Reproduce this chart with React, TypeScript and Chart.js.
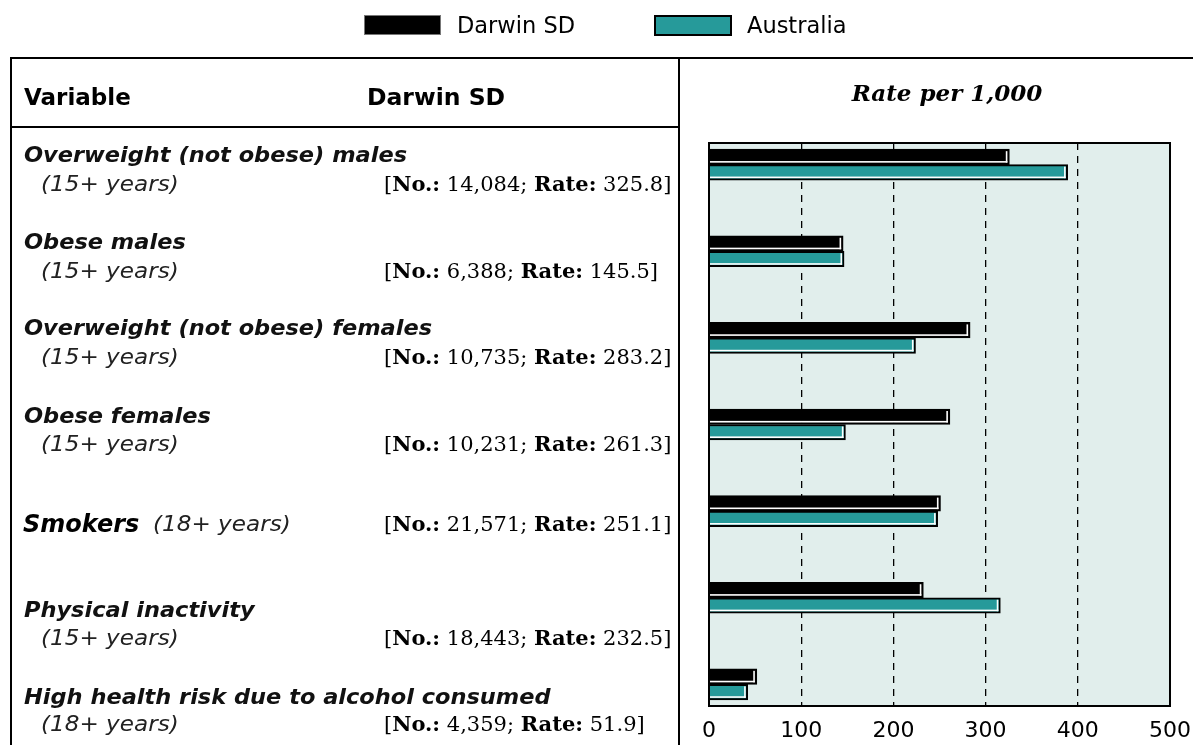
import React, { useEffect, useRef } from "react";
import { Chart, registerables } from "chart.js";

Chart.register(...registerables);

// ---------- data ----------
const seriesNames = ["Darwin SD", "Australia"];
const categories = [
  "Overweight (not obese) males",
  "Obese males",
  "Overweight (not obese) females",
  "Obese females",
  "Smokers",
  "Physical inactivity",
  "High health risk due to alcohol consumed",
];
const ageGroups = [
  "(15+ years)",
  "(15+ years)",
  "(15+ years)",
  "(15+ years)",
  "(18+ years)",
  "(15+ years)",
  "(18+ years)",
];
const darwinCounts = ["14,084", "6,388", "10,735", "10,231", "21,571", "18,443", "4,359"];
const darwinRates = [325.8, 145.5, 283.2, 261.3, 251.1, 232.5, 51.9];
const australiaRates = [389, 146.5, 224, 148, 248, 316, 42];
const xTickValues = [0, 100, 200, 300, 400, 500];

// ---------- colours ----------
const TEAL = "#269A9A";
const PLOT_BG = "#E1EEEC";

// ---------- layout (row text centres) ----------
const headCenters = [155, 242, 328, 416, 524, 610, 697];
const subCenters = [184, 271, 357, 444, 524, 638, 724];
const singleLineRow = 4;

const decorPlugin = {
  id: "decor",
  beforeDraw(chart: any) {
    const { ctx, chartArea: a } = chart;
    ctx.save();
    ctx.fillStyle = PLOT_BG;
    ctx.fillRect(a.left, a.top, a.right - a.left, a.bottom - a.top);
    ctx.restore();
  },
  afterDatasetsDraw(chart: any) {
    const ctx = chart.ctx;
    ctx.save();
    ctx.fillStyle = "#ffffff";
    chart.data.datasets.forEach((_ds: any, di: number) => {
      const meta = chart.getDatasetMeta(di);
      meta.data.forEach((el: any) => {
        const { x, y, base, height } = el.getProps(["x", "y", "base", "height"], true);
        const left = Math.min(x, base);
        const right = Math.max(x, base);
        const top = y - height / 2;
        const bottom = y + height / 2;
        const bw = 2;
        const hl = 1.6;
        ctx.fillRect(right - bw - hl, top + bw, hl, bottom - top - 2 * bw);
        ctx.fillRect(left, bottom - bw - hl, right - left - bw, hl);
      });
    });
    ctx.restore();
  },
  afterDraw(chart: any) {
    const { ctx, chartArea: a } = chart;
    ctx.save();
    ctx.strokeStyle = "#000";
    ctx.lineWidth = 2;
    ctx.strokeRect(a.left, a.top, a.right - a.left, a.bottom - a.top);
    ctx.restore();
  },
};

function BarChart() {
  const ref = useRef<HTMLCanvasElement | null>(null);
  useEffect(() => {
    if (!ref.current) return;
    const chart = new Chart(ref.current, {
      type: "bar",
      data: {
        labels: categories,
        datasets: [
          {
            label: seriesNames[0],
            data: darwinRates.map((v, i) => ({ x: v, y: i })),
            backgroundColor: "#000",
            borderColor: "#000",
            borderWidth: 2,
            barThickness: 15.5,
          },
          {
            label: seriesNames[1],
            data: australiaRates.map((v, i) => ({ x: v, y: i })),
            backgroundColor: TEAL,
            borderColor: "#000",
            borderWidth: 2,
            barThickness: 15.5,
          },
        ],
      } as any,
      options: {
        indexAxis: "y",
        responsive: false,
        animation: false,
        devicePixelRatio: 1,
        layout: { padding: { left: 709, right: 31, top: 143, bottom: 0 } },
        plugins: { legend: { display: false }, tooltip: { enabled: false } },
        scales: {
          x: {
            type: "linear",
            position: "bottom",
            min: 0,
            max: 500,
            afterBuildTicks: (s: any) => {
              s.ticks = xTickValues.map((v) => ({ value: v }));
            },
            afterFit: (s: any) => {
              s.height = 39;
            },
            ticks: {
              color: "#000",
              padding: 12,
              font: { family: "'DejaVu Sans'", size: 22 },
            },
            grid: {
              color: "#000",
              lineWidth: 1.3,
              drawTicks: false,
            },
            border: { display: false, dash: [7, 6] },
          },
          y: {
            type: "linear",
            min: -0.25,
            max: 6.25,
            reverse: true,
            offset: false,
            display: false,
          },
        },
      } as any,
      plugins: [decorPlugin],
    });
    return () => chart.destroy();
  }, []);
  return (
    <canvas
      ref={ref}
      width={1203}
      height={745}
      style={{ position: "absolute", left: 0, top: 0, width: 1203, height: 745 }}
    />
  );
}

const lineStyle = (l: number, t: number, w: number, h: number): React.CSSProperties => ({
  position: "absolute",
  left: l,
  top: t,
  width: w,
  height: h,
  background: "#000",
});

export default function App() {
  const textLine = (center: number, h = 30): React.CSSProperties => ({
    position: "absolute",
    top: center - h / 2,
    height: h,
    lineHeight: h + "px",
    whiteSpace: "nowrap",
    color: "#000",
  });
  return (
    <div
      style={{
        position: "fixed",
        left: 0,
        top: 0,
        width: 1203,
        height: 745,
        background: "#fff",
        overflow: "hidden",
        fontFamily: "'DejaVu Sans', sans-serif",
      }}
    >
      <BarChart />
      {/* legend */}
      <div style={{ position: "absolute", left: 364, top: 15, width: 77, height: 20, background: "#000", border: "1px solid #777", boxSizing: "border-box" }} />
      <div style={{ ...textLine(25), left: 457, fontSize: 22.5 }}>{seriesNames[0]}</div>
      <div style={{ position: "absolute", left: 654, top: 15, width: 78, height: 21, background: TEAL, border: "2px solid #000", boxSizing: "border-box" }} />
      <div style={{ ...textLine(25), left: 747, fontSize: 22.5 }}>{seriesNames[1]}</div>

      {/* table frame */}
      <div style={lineStyle(10, 57, 1183, 2)} />
      <div style={lineStyle(10, 57, 2, 688)} />
      <div style={lineStyle(678, 57, 2, 688)} />
      <div style={lineStyle(10, 126, 670, 2)} />

      {/* headers */}
      <div style={{ ...textLine(97), left: 24, fontSize: 23, fontWeight: "bold" }}>Variable</div>
      <div style={{ ...textLine(97), left: 367, fontSize: 23.5, fontWeight: "bold" }}>{seriesNames[0]}</div>
      <div
        style={{
          ...textLine(93),
          left: 947,
          transform: "translateX(-50%)",
          fontFamily: "'DejaVu Serif', serif",
          fontStyle: "italic",
          fontWeight: "bold",
          fontSize: 23,
        }}
      >
        Rate per 1,000
      </div>

      {/* rows */}
      {categories.map((cat, i) => {
        const single = i === singleLineRow;
        return (
          <React.Fragment key={cat}>
            {single ? (
              <>
                <div style={{ ...textLine(headCenters[i]), left: 23, fontSize: 24, fontWeight: "bold", fontStyle: "italic" }}>{cat}</div>
                <div
                  style={{
                    ...textLine(headCenters[i]),
                    left: 153,
                    fontSize: 21,
                    fontStyle: "italic",
                    transform: "scaleX(1.1)",
                    transformOrigin: "left center",
                    color: "#222",
                  }}
                >
                  {ageGroups[i]}
                </div>
              </>
            ) : (
              <>
                <div
                  style={{
                    ...textLine(headCenters[i]),
                    left: 24,
                    fontSize: 21,
                    fontStyle: "italic",
                    fontWeight: "bold",
                    transform: "scaleX(1.07)",
                    transformOrigin: "left center",
                    color: "#111",
                  }}
                >
                  {cat}
                </div>
                <div
                  style={{
                    ...textLine(subCenters[i]),
                    left: 41,
                    fontSize: 21,
                    fontStyle: "italic",
                    transform: "scaleX(1.1)",
                    transformOrigin: "left center",
                    color: "#222",
                  }}
                >
                  {ageGroups[i]}
                </div>
              </>
            )}
            <div style={{ ...textLine(subCenters[i]), left: 384, fontSize: 21, fontFamily: "'DejaVu Serif', serif" }}>
              [<b>No.:</b> {darwinCounts[i]}; <b>Rate:</b> {darwinRates[i].toFixed(1)}]
            </div>
          </React.Fragment>
        );
      })}
    </div>
  );
}
